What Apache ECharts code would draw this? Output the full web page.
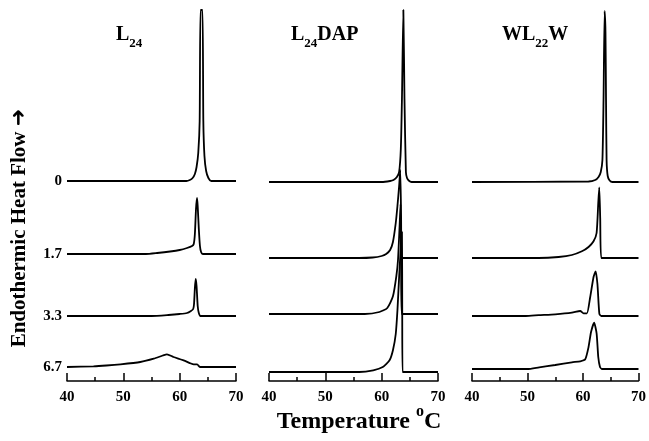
<!DOCTYPE html>
<html>
<head>
<meta charset="utf-8">
<script src="https://cdn.jsdelivr.net/npm/echarts@6/dist/echarts.min.js"></script>
<style>
  html, body { margin: 0; background: #fff; }
  #chart { width: 649px; height: 441px; }
</style>
</head>
<body>
<div id="chart"></div>
<script>
// concentration labels (left of first panel)
const concLabels = ['0', '1.7', '3.3', '6.7'];

// baseline offset of each stacked trace (same units as heat flow)
const offsetsL24 = [200, 127, 65, 14];
const offsetsDAP = [199, 123, 67, 9];
const offsetsWLW = [199, 123, 65, 12];

// traces: [temperature, heat flow above own baseline]
const l24_0 = [[40,0],[61.2,0],[61.8,1],[62.3,3],[62.7,7],[63.0,14],[63.3,28],[63.55,60],[63.7,171],[64.05,171],[64.2,60],[64.4,25],[64.7,10],[65.1,3],[65.6,0],[70,0]];
const l24_17 = [[40,0],[54,0],[56,1],[58.3,2.5],[60,4],[61.3,6],[62.2,8],[62.5,10],[62.7,20],[62.9,45],[63.08,56],[63.2,48],[63.4,25],[63.6,8],[63.8,2],[64.1,0],[70,0]];
const l24_33 = [[40,0],[55,0],[58,1],[60,2],[61.3,3],[62.0,5],[62.4,7],[62.55,12],[62.7,28],[62.85,37],[63.0,30],[63.2,10],[63.4,3],[63.7,0],[70,0]];
const l24_67 = [[40,0],[44.7,0.7],[47,1.5],[49.5,2.7],[53,5],[55.4,8.3],[57,11.5],[57.75,12.7],[58.9,10],[60.7,6.7],[62.0,3.5],[62.5,2.7],[63.1,2.7],[63.6,0],[70,0]];

const dap_0 = [[40,0],[60,0],[61.5,1],[62.1,2],[62.7,5],[63.1,10],[63.4,33],[63.6,83],[63.85,172],[64.05,83],[64.3,10],[64.5,4],[64.8,1.5],[65.3,0],[70,0]];
const dap_17 = [[40,0],[56,0],[58.4,0.5],[60,2],[60.8,4],[61.5,8],[62.0,16],[62.5,35],[62.8,52],[63.1,72],[63.3,88],[63.45,40],[63.55,0],[70,0]];
const dap_33 = [[40,0],[57,0],[59.6,2],[61.0,6],[62.0,17.7],[62.6,37.7],[62.9,54],[63.2,90],[63.35,110],[63.45,50],[63.55,0],[70,0]];
const dap_67 = [[40,0],[56,0],[58.5,1.7],[60.2,5],[61.4,11.7],[62.0,21.7],[62.5,38],[62.8,61.7],[63.1,95],[63.4,125],[63.6,140],[63.65,60],[63.7,0],[70,0]];

const wlw_0 = [[40,0],[61.0,0.5],[62.2,2],[62.8,5],[63.2,10],[63.5,22],[63.7,82],[63.9,171],[64.05,150],[64.15,82],[64.25,22],[64.45,6],[64.8,1.5],[65.3,0],[70,0]];
const wlw_17 = [[40,0],[52,0],[55.6,1],[58.0,3],[59.8,6.7],[61.0,11],[61.9,16.7],[62.45,25],[62.75,55],[62.93,70.7],[63.1,40],[63.3,0],[70,0]];
const wlw_33 = [[40,0],[49.7,0],[52,0.8],[55.0,1.7],[58,3.3],[59.5,5],[60.1,2.6],[60.7,2.6],[61.3,19],[61.9,39],[62.27,44.7],[62.6,32],[62.95,2],[63.3,0],[70,0]];
const wlw_67 = [[40,0],[50,0],[52.1,1.7],[55.0,4],[58,6.7],[59.5,7.7],[60.4,9.7],[61.0,22],[61.45,37],[62.0,46.3],[62.45,35.7],[62.75,12],[63.05,2.3],[63.4,0],[70,0]];

const xTicks = { min: 40, max: 70, interval: 10 };

const traces = [
  [l24_0, l24_17, l24_33, l24_67],
  [dap_0, dap_17, dap_33, dap_67],
  [wlw_0, wlw_17, wlw_33, wlw_67]
];
const offsets = [offsetsL24, offsetsDAP, offsetsWLW];

const FONT = 'Liberation Serif';
const gridLefts = [67, 269, 472];
const gridWidth = 169;

const chart = echarts.init(document.getElementById('chart'));

const titleRich = {
  m: { fontFamily: FONT, fontWeight: 'bold', fontSize: 20, lineHeight: 30, color: '#000' },
  s: { fontFamily: FONT, fontWeight: 'bold', fontSize: 13, lineHeight: 13, verticalAlign: 'bottom', color: '#000' }
};

const series = [];
traces.forEach((panel, p) => {
  panel.forEach((tr, i) => {
    series.push({
      type: 'line',
      xAxisIndex: p,
      yAxisIndex: p,
      data: tr.map(d => [d[0], d[1] + offsets[p][i]]),
      showSymbol: false,
      smooth: 0.2,
      clip: false,
      lineStyle: { color: '#000', width: 1.8 },
      animation: false
    });
  });
});

const option = {
  animation: false,
  title: [
    { text: '{m|L}{s|24}', left: 116, top: 20, padding: 0, textStyle: { rich: titleRich } },
    { text: '{m|L}{s|24}{m|DAP}', left: 291, top: 20, padding: 0, textStyle: { rich: titleRich } },
    { text: '{m|WL}{s|22}{m|W}', left: 502, top: 20, padding: 0, textStyle: { rich: titleRich } }
  ],
  grid: gridLefts.map(l => ({ left: l, width: gridWidth, top: 10, bottom: 60 })),
  xAxis: gridLefts.map((l, p) => ({
    type: 'value',
    gridIndex: p,
    min: xTicks.min,
    max: xTicks.max,
    interval: xTicks.interval,
    axisLine: { show: true, lineStyle: { color: '#000', width: 1.5 } },
    axisTick: { show: true, inside: true, length: 8, lineStyle: { color: '#000', width: 1.5 } },
    minorTick: { show: true, splitNumber: 2, length: 4, lineStyle: { color: '#000', width: 1.5 } },
    splitLine: { show: false },
    axisLabel: { color: '#000', fontFamily: FONT, fontWeight: 'bold', fontSize: 15, margin: 9 }
  })),
  yAxis: gridLefts.map((l, p) => ({
    type: 'value',
    gridIndex: p,
    min: 0,
    max: 371,
    show: p === 0,
    axisLine: { show: false },
    axisTick: { show: false },
    splitLine: { show: false },
    axisLabel: {
      show: p === 0,
      customValues: offsetsL24,
      formatter: v => concLabels[offsetsL24.indexOf(v)] ?? '',
      color: '#000', fontFamily: FONT, fontWeight: 'bold', fontSize: 15, margin: 5
    }
  })),
  graphic: [
    {
      type: 'text',
      x: 20, y: 228,
      rotation: Math.PI / 2,
      style: {
        text: '{m|Endothermic Heat Flow }{a|➜}',
        align: 'center',
        verticalAlign: 'middle',
        rich: {
          m: { fontFamily: FONT, fontWeight: 'bold', fontSize: 21, fill: '#000' },
          a: { fontFamily: 'DejaVu Sans', fontWeight: 'bold', fontSize: 21, fill: '#000' }
        }
      }
    },
    {
      type: 'text',
      x: 359, y: 422,
      style: {
        text: '{m|Temperature }{o|o}{m|C}',
        align: 'center',
        verticalAlign: 'middle',
        rich: {
          m: { fontFamily: FONT, fontWeight: 'bold', fontSize: 24, lineHeight: 37, fill: '#000' },
          o: { fontFamily: FONT, fontWeight: 'bold', fontSize: 16, lineHeight: 16, verticalAlign: 'top', fill: '#000' }
        }
      }
    }
  ],
  series: series
};

chart.setOption(option);
</script>
</body>
</html>
